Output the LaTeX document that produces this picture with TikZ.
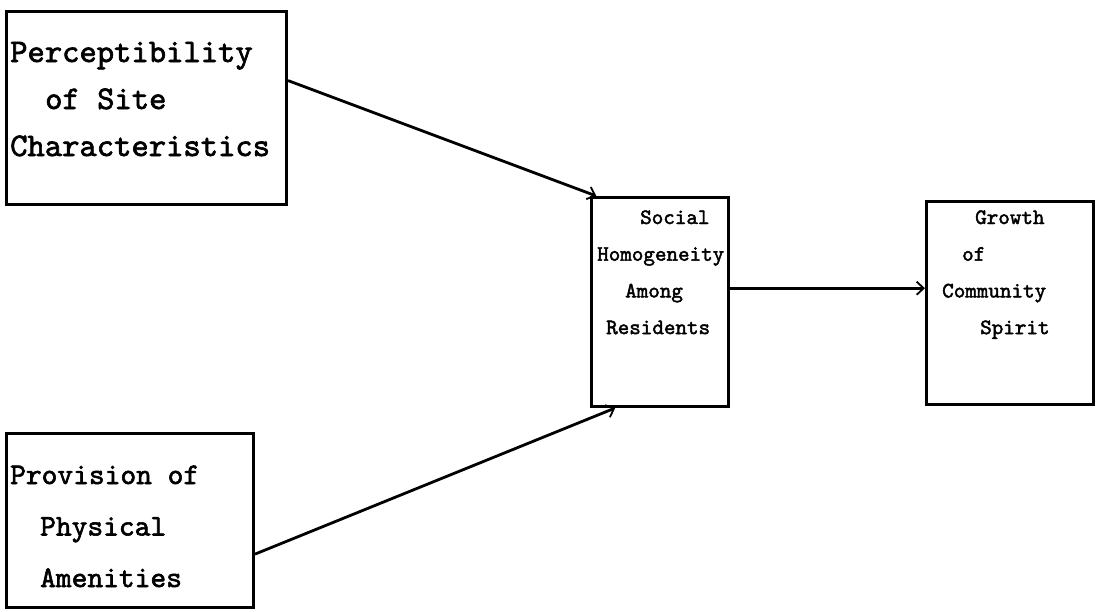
\documentclass[tikz,border=0pt]{standalone}
\usepackage{fontspec}
\setmonofont{lmmono10-regular.otf}[FakeBold=2]
\usetikzlibrary{arrows.meta,calc}
\begin{document}
\begin{tikzpicture}[x=1pt,y=-1pt,
  box/.style={draw, line width=3pt, inner sep=0pt, anchor=north west},
  words/.style={inner sep=0pt, anchor=base west},
  big/.style={font=\ttfamily\fontsize{33}{47}\selectfont},
  mid/.style={font=\ttfamily\fontsize{30}{51.5}\selectfont},
  small/.style={font=\ttfamily\fontsize{22}{36.7}\selectfont},
  link/.style={line width=2.8pt, -{Straight Barb[length=7pt,width=13pt,line width=1.8pt]}}]
\useasboundingbox (0,0) rectangle (1102,611);

% boxes
\node[box, minimum width=280pt, minimum height=193pt] (perc) at (5,10) {};
\node[box, minimum width=247pt, minimum height=174pt] (prov) at (5,432) {};
\node[box, minimum width=137pt, minimum height=209pt] (soc) at (590,196) {};
\node[box, minimum width=167pt, minimum height=203pt] (grow) at (925,200) {};

% typed labels
\node[words, big] (perc-t) at (10,62)
  {\vtop{\hbox{Perceptibility}\hbox{\hspace*{35pt}of Site}\hbox{Characteristics}}};
\node[words, mid] (prov-t) at (10,484)
  {\vtop{\hbox{Provision of}\hbox{\hspace*{30pt}Physical}\hbox{\hspace*{30pt}Amenities}}};
\node[words, small] (soc-t) at (597,224)
  {\vtop{\hbox{\hspace*{43pt}Social}\hbox{Homogeneity}\hbox{\hspace*{28pt}Among}\hbox{\hspace*{9pt}Residents}}};
\node[words, small] (grow-t) at (942,224)
  {\vtop{\hbox{\hspace*{33pt}Growth}\hbox{\hspace*{20pt}of}\hbox{Community}\hbox{\hspace*{38pt}Spirit}}};

% connectors
\coordinate (s3) at ($(soc.north east)!0.435!(soc.south east)$);
\draw[link] ($(perc.north east)!0.36!(perc.south east)$) -- ($(soc.north west)!0.045!(soc.north east)$);
\draw[link] ($(prov.north east)!0.69!(prov.south east)$) -- ($(soc.south west)!0.18!(soc.south east)$);
\draw[link] (s3) -- (s3 -| grow.west);
\end{tikzpicture}
\end{document}
